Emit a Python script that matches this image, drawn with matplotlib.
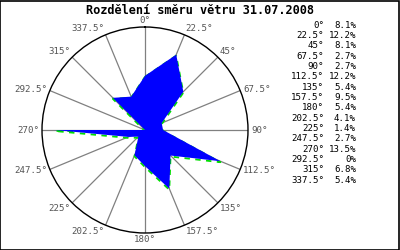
import numpy as np
import matplotlib
matplotlib.use("Agg")
import matplotlib.pyplot as plt
from matplotlib.patches import Polygon
from matplotlib.lines import Line2D
from matplotlib.transforms import IdentityTransform

# data
directions = [0, 22.5, 45, 67.5, 90, 112.5, 135, 157.5,
              180, 202.5, 225, 247.5, 270, 292.5, 315, 337.5]
percent = [8.1, 12.2, 8.1, 2.7, 2.7, 12.2, 5.4, 9.5,
           5.4, 4.1, 1.4, 2.7, 13.5, 0, 6.8, 5.4]
title = "Rozdělení směru větru 31.07.2008"
r_max = 15.4

mono = "DejaVu Sans Mono"

fig = plt.figure(figsize=(4, 2.5), dpi=100)
fig.patch.set_facecolor("white")

# frame round the whole picture
fig.patches.append(plt.Rectangle((0.001, 0.002), 0.996, 0.994, transform=fig.transFigure,
                                 fill=False, edgecolor="black", linewidth=1.2))

ax = fig.add_axes([0.105, 0.068, 0.515, 0.824], projection="polar")
ax.set_theta_zero_location("N")
ax.set_theta_direction(-1)
ax.set_ylim(0, r_max)
ax.set_yticks([])
ax.set_thetagrids(directions, [""] * len(directions))
ax.grid(True, color="#808080", linewidth=0.9)
ax.spines["polar"].set_color("black")
ax.spines["polar"].set_linewidth(1.0)

# direction labels just outside the circle
for d in directions:
    s, c = np.sin(np.radians(d)), np.cos(np.radians(d))
    ha = "left" if s > 0.1 else "right" if s < -0.1 else "center"
    va = "bottom" if c > 0.5 else "top" if c < -0.5 else "center"
    ax.annotate(f"{d:g}°", xy=(np.radians(d), r_max), xytext=(2.2 * s, 1.6 * c),
                textcoords="offset points", ha=ha, va=va,
                fontfamily=mono, fontsize=6.6, color="#555555", annotation_clip=False)

# straight edges between the points: map data to pixels with the polar axes' transform
theta = np.radians(directions)
pts = ax.transData.transform(np.column_stack([theta, percent]))
pts = np.vstack([pts, pts[:1]])

ax.add_line(Line2D(pts[:, 0], pts[:, 1] - 1, transform=IdentityTransform(),
                   color="#00dd00", linewidth=1.3, linestyle=(0, (3, 3)), zorder=2))
ax.add_patch(Polygon(pts, closed=True, transform=IdentityTransform(),
                     facecolor="#0000ff", edgecolor="none", zorder=3))

fig.text(0.5, 1 - 10 / 250, title, ha="center", va="center",
         fontfamily=mono, fontweight="bold", fontsize=8.6)

for i, (d, p) in enumerate(zip(directions, percent)):
    y = 1 - (25 + i * 10.35) / 250
    fig.text(324 / 400, y, f"{d:g}°", ha="right", va="center",
             fontfamily=mono, fontsize=6.6, color="black")
    fig.text(356 / 400, y, f"{p:g}%", ha="right", va="center",
             fontfamily=mono, fontsize=6.6, color="black")

fig.savefig("out.png", dpi=100)
